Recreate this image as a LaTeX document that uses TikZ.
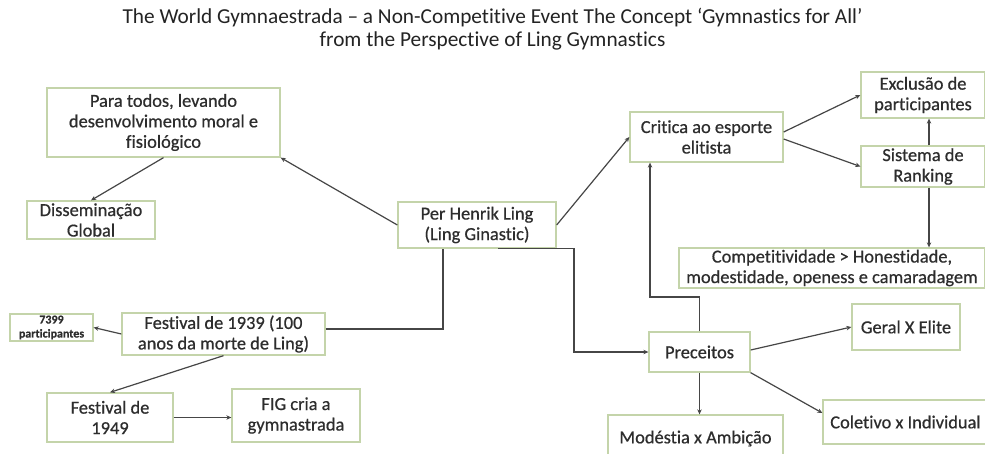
\documentclass[tikz,border=0pt]{standalone}
\usepackage{fontspec}
\setmainfont{Carlito}[Ligatures={NoCommon,NoRare,NoDiscretionary}]
\newfontfamily\boxfont{Carlito}[Ligatures={NoCommon,NoRare,NoDiscretionary},FakeBold=0.6]
\usetikzlibrary{arrows.meta,calc}
\definecolor{boxgreen}{RGB}{196,212,170}
\definecolor{txt}{RGB}{45,45,45}
\definecolor{ln}{RGB}{70,70,70}
\definecolor{titlec}{RGB}{35,35,35}
\begin{document}
\begin{tikzpicture}[x=1pt,y=-1pt,
  box/.style={draw=boxgreen, line width=1.3pt, inner sep=0pt, align=center, text=txt,
    font=\boxfont\fontsize{18.4}{20.5}\selectfont},
  conn/.style={draw=ln, line width=1.2pt, -{Stealth[length=5pt,width=4.5pt]}},
  plain/.style={draw=ln, line width=1.2pt}]
\useasboundingbox (0,0) rectangle (985,453);
\fill[white] (0,0) rectangle (985,453);

\node[font=\fontsize{21.3}{22.5}\selectfont, text=titlec, align=center, inner sep=0pt] (title) at (492.5,29)
  {The World Gymnaestrada – a Non-Competitive Event The Concept ‘Gymnastics for All’\\from the Perspective of Ling Gymnastics};

\node[box, minimum width=233pt, minimum height=69pt] (para) at (163.5,122.5) {Para todos, levando\\desenvolvimento moral e\\fisiológico};
\node[box, minimum width=128pt, minimum height=38pt] (diss) at (91,220) {Disseminação\\Global};
\node[box, minimum width=158pt, minimum height=46pt] (ling) at (477,225) {Per Henrik Ling\\(Ling Ginastic)};
\node[box, minimum width=153pt, minimum height=50pt] (crit) at (706.5,137) {Critica ao esporte\\elitista};
\node[box, minimum width=124pt, minimum height=46pt] (excl) at (923,95) {Exclusão de\\participantes};
\node[box, minimum width=124pt, minimum height=41pt] (sist) at (923,166.5) {Sistema de\\Ranking};
\node[box, minimum width=306pt, minimum height=40pt] (comp) at (832,268) {Competitividade > Honestidade,\\modestidade, openess e camaradagem};
\node[box, minimum width=203pt, minimum height=42pt] (f1939) at (223.5,334) {Festival de 1939 (100\\anos da morte de Ling)};
\node[box, minimum width=83pt, minimum height=27pt, font=\boxfont\fontsize{12}{14}\selectfont\bfseries] (n7399) at (51.5,327.5) {7399\\participantes};
\node[box, minimum width=126pt, minimum height=49pt] (f1949) at (110,417.5) {Festival de\\1949};
\node[box, minimum width=128pt, minimum height=53pt] (fig) at (296,415.5) {FIG cria a\\gymnastrada};
\node[box, minimum width=101pt, minimum height=40pt] (prec) at (699.5,352) {Preceitos};
\node[box, minimum width=175pt, minimum height=47pt] (mod) at (695.5,438.5) {Modéstia x Ambição};
\node[box, minimum width=108pt, minimum height=46pt] (geral) at (906,327) {Geral X Elite};
\node[box, minimum width=165pt, minimum height=44pt] (colet) at (905.5,422) {Coletivo x Individual};

\coordinate (vx) at (929,0);
\coordinate (lx) at (443,0);
\coordinate (b1) at (498,0);
\coordinate (b2) at (574,0);
\coordinate (ky) at (0,297);
\coordinate (kx) at (650,0);

\draw[conn] (ling.west) -- (para.south east);
\draw[conn] (para.south) -- (diss.north);
\draw[conn] (ling.east) -- (crit.west);
\draw[conn] ([yshift=5pt]crit.east) -- (excl.west);
\draw[conn] ([yshift=-2pt]crit.east) -- (sist.west);
\draw[conn] (sist.north -| vx) -- (excl.south -| vx);
\draw[conn] (sist.south -| vx) -- (comp.north -| vx);
\draw[plain] ([yshift=5pt]f1939.east) -| (ling.south -| lx);
\draw[conn] (ling.south -| b1) -- (ling.south -| b2) |- (prec.west);
\draw[conn] (prec.north) -- (prec.north |- ky) -| (crit.south -| kx);
\draw[conn] (f1939.west) -- (n7399.east);
\draw[conn] (f1939.south) -- (f1949.north);
\draw[conn] (f1949.east) -- (f1949.east -| fig.west);
\draw[conn] ([yshift=2pt]prec.east) -- (geral.west);
\draw[conn] (prec.south east) -- ([yshift=9pt]colet.west);
\draw[conn] (prec.south) -- (prec.south |- mod.north);
\end{tikzpicture}
\end{document}
